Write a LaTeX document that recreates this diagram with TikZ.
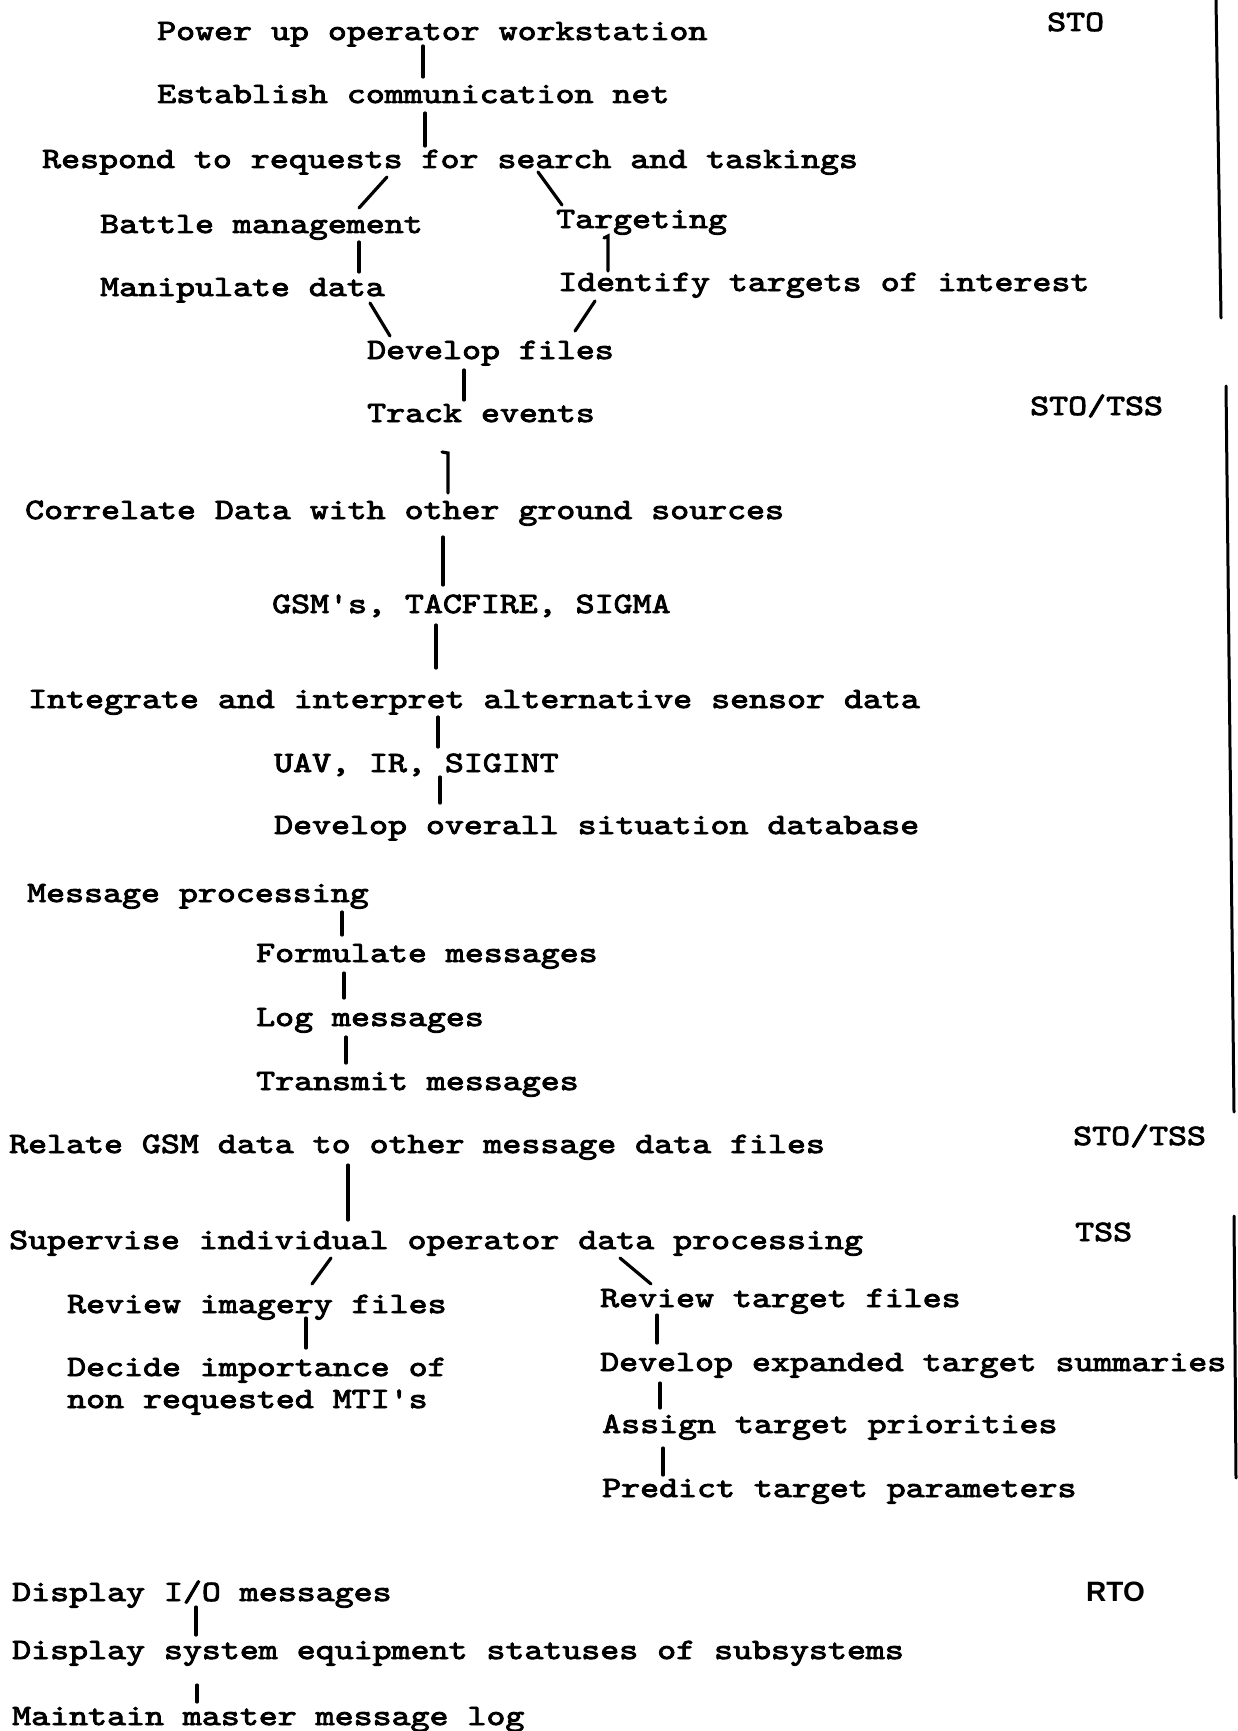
\documentclass[tikz,border=0pt]{standalone}
\usepackage{fontspec}
\newfontfamily\tw{lmmono10-regular.otf}[FakeStretch=1.225,FakeBold=3]
\newfontfamily\rtofont{Liberation Sans}
\begin{document}
\begin{tikzpicture}[x=1pt,y=-1pt,
  txt/.style={anchor=base west,inner sep=0pt,font=\tw\fontsize{29.5}{33}\selectfont},
  rtotxt/.style={anchor=base west,inner sep=0pt,font=\rtofont\bfseries\fontsize{28}{32}\selectfont},
  bar/.style={line width=3.2pt,line cap=round},
  rline/.style={line width=3pt,line cap=round}]
\fill[white] (0,0) rectangle (1238,1731);
\useasboundingbox (0,0) rectangle (1238,1731);
% texts
\node[txt] (p1) at (157,40) {Power up operator workstation};
\node[txt] (p2) at (157,103) {Establish communication net};
\node[txt] (p3) at (42,168) {Respond to requests for search and taskings};
\node[txt] (p4) at (100,233) {Battle management};
\node[txt] (p5) at (556,228) {Targeting};
\node[txt] (p6) at (100,296) {Manipulate data};
\node[txt] (p7) at (558,291) {Identify targets of interest};
\node[txt] (p8) at (367,359) {Develop files};
\node[txt] (p9) at (367,422) {Track events};
\node[txt] (p10) at (25,519) {Correlate Data with other ground sources};
\node[txt] (p11) at (272,613) {GSM's, TACFIRE, SIGMA};
\node[txt] (p12) at (28,708) {Integrate and interpret alternative sensor data};
\node[txt] (p13) at (274,772) {UAV, IR, SIGINT};
\node[txt] (p14) at (274,834) {Develop overall situation database};
\node[txt] (p15) at (27,902) {Message processing};
\node[txt] (p16) at (256,962) {Formulate messages};
\node[txt] (p17) at (256,1026) {Log messages};
\node[txt] (p18) at (256,1090) {Transmit messages};
\node[txt] (p19) at (9,1153) {Relate GSM data to other message data files};
\node[txt] (p20) at (9,1249) {Supervise individual operator data processing};
\node[txt] (p21) at (67,1313) {Review imagery files};
\node[txt] (p22) at (600,1307) {Review target files};
\node[txt] (p23) at (67,1376) {Decide importance of};
\node[txt] (p24) at (67,1408) {non requested MTI's};
\node[txt] (p25) at (600,1371) {Develop expanded target summaries};
\node[txt] (p26) at (602,1433) {Assign target priorities};
\node[txt] (p27) at (602,1497) {Predict target parameters};
\node[txt] (p28) at (12,1601) {Display I/O messages};
\node[txt] (p29) at (12,1659) {Display system equipment statuses of subsystems};
\node[txt] (p30) at (12,1725) {Maintain master message log};
% role labels
\node[txt] (sto1) at (1047,31) {STO};
\node[txt] (sto2) at (1030,415) {STO/TSS};
\node[txt] (sto3) at (1073,1145) {STO/TSS};
\node[txt] (tss) at (1075,1241) {TSS};
\node[rtotxt] (rto) at (1086,1601) {RTO};
% connectors
\draw[bar] (p1.base -| 423,0) ++(0,6) -- ++(0,31);
\draw[bar] (p2.base -| 425,0) ++(0,10) -- ++(0,33);
\draw[bar] (p3.base -| 387,0) ++(0,9) -- ++(-28,31);
\draw[bar] (p3.base -| 538,0) ++(0,4) -- ++(24,33);
\draw[bar] (p4.base -| 359,0) ++(0,9) -- ++(0,30);
\draw[bar] (p5.base -| 604,0) ++(0,10) -- ++(4,-2) -- ++(0,35);
\draw[bar] (p6.base -| 370,0) ++(0,7) -- ++(20,33);
\draw[bar] (p7.base -| 595,0) ++(0,10) -- ++(-20,30);
\draw[bar] (p8.base -| 464,0) ++(0,11) -- ++(0,30);
\draw[bar] (p9.base -| 442,0) ++(0,30) -- ++(6,1) -- ++(0,40);
\draw[bar] (p10.base -| 443,0) ++(0,18) -- ++(0,48);
\draw[bar] (p11.base -| 436,0) ++(0,12) -- ++(0,43);
\draw[bar] (p12.base -| 438,0) ++(0,9) -- ++(0,30);
\draw[bar] (p13.base -| 440,0) ++(0,5) -- ++(0,26);
\draw[bar] (p15.base -| 342,0) ++(0,10) -- ++(0,23);
\draw[bar] (p16.base -| 344,0) ++(0,11) -- ++(0,25);
\draw[bar] (p17.base -| 346,0) ++(0,11) -- ++(0,26);
\draw[bar] (p19.base -| 348,0) ++(0,12) -- ++(0,55);
\draw[bar] (p20.base -| 331,0) ++(0,9) -- ++(-19,26);
\draw[bar] (p20.base -| 620,0) ++(0,9) -- ++(31,26);
\draw[bar] (p21.base -| 306,0) ++(0,5) -- ++(0,30);
\draw[bar] (p22.base -| 657,0) ++(0,8) -- ++(0,28);
\draw[bar] (p25.base -| 660,0) ++(0,12) -- ++(0,25);
\draw[bar] (p26.base -| 663,0) ++(0,15) -- ++(0,27);
\draw[bar] (p28.base -| 196,0) ++(0,6) -- ++(0,28);
\draw[bar] (p29.base -| 197,0) ++(0,26) -- ++(0,17);
% right margin rules
\draw[rline] (1216,0) -- (1221,318);
\draw[rline] (1226,386) -- (1234,1112);
\draw[rline] (1234,1216) -- (1236,1478);
\end{tikzpicture}
\end{document}
